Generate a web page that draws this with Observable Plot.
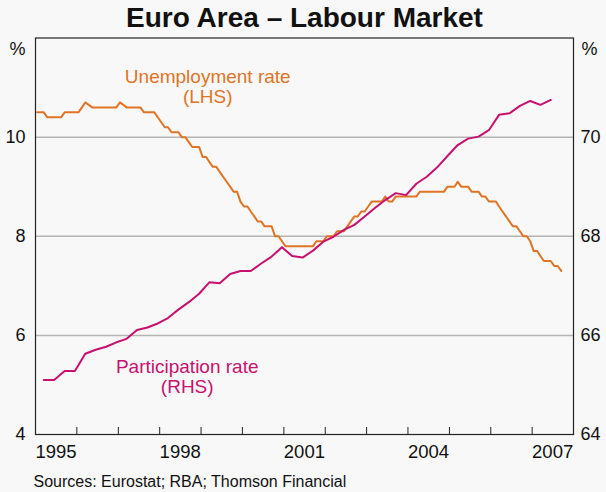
<!DOCTYPE html>
<html>
<head>
<meta charset="utf-8">
<script src="https://cdn.jsdelivr.net/npm/d3@7"></script>
<script src="https://cdn.jsdelivr.net/npm/@observablehq/plot@0.6"></script>
<style>
  html, body { margin: 0; padding: 0; background: #f8f8f8; }
  #chart { width: 606px; height: 492px; }
</style>
</head>
<body>
<div id="chart"></div>
<script>
// Unemployment rate, % (LHS), monthly from January 1995
const unemployment = [
  10.5,10.5,10.5,10.4,10.4,10.4,10.4,10.4,10.5,10.5,10.5,10.5,
  10.5,10.6,10.7,10.65,10.6,10.6,10.6,10.6,10.6,10.6,10.6,10.6,
  10.7,10.65,10.6,10.6,10.6,10.6,10.6,10.5,10.5,10.5,10.5,10.4,
  10.3,10.2,10.2,10.1,10.1,10.1,10.0,10.0,9.9,9.8,9.8,9.8,
  9.6,9.6,9.5,9.4,9.4,9.3,9.2,9.1,9.0,8.9,8.9,8.7,
  8.6,8.6,8.5,8.4,8.3,8.3,8.2,8.2,8.2,8.0,8.0,7.9,
  7.8,7.8,7.8,7.8,7.8,7.8,7.8,7.8,7.8,7.9,7.9,7.9,
  8.0,8.0,8.0,8.1,8.1,8.1,8.2,8.3,8.4,8.4,8.5,8.5,
  8.6,8.7,8.7,8.7,8.7,8.8,8.7,8.7,8.8,8.8,8.8,8.8,
  8.8,8.8,8.8,8.9,8.9,8.9,8.9,8.9,8.9,8.9,8.9,9.0,
  9.0,9.0,9.1,9.0,9.0,9.0,8.9,8.9,8.9,8.8,8.8,8.7,
  8.7,8.7,8.6,8.5,8.4,8.3,8.2,8.2,8.1,8.0,8.0,7.9,
  7.7,7.7,7.6,7.5,7.5,7.5,7.4,7.4,7.3
];
// Participation rate, % (RHS), quarterly from 1995 Q1
const participation = [
  65.10,65.10,65.28,65.28,65.63,65.71,65.77,65.86,65.93,66.11,
  66.16,66.24,66.35,66.52,66.67,66.84,67.07,67.05,67.24,67.30,
  67.30,67.45,67.59,67.78,67.60,67.57,67.71,67.89,67.99,68.13,
  68.23,68.40,68.57,68.73,68.87,68.83,69.06,69.20,69.39,69.62,
  69.84,69.97,70.01,70.14,70.45,70.48,70.63,70.73,70.65,70.75
];
const leftTicks = [4, 6, 8, 10];
const rightOffset = 60; // RHS value = LHS value + 60 (64..72 vs 4..12)
const yearLabels = [1995, 1998, 2001, 2004, 2007];
const tickYears = [1996,1997,1998,1999,2000,2001,2002,2003,2004,2005,2006,2007];
const seriesLabels = [
  {text: "Unemployment rate\n(LHS)", year: 1999, month: 2, v: 10.68, color: "#e07424"},
  {text: "Participation rate\n(RHS)", year: 1998, month: 8, v: 4.83, color: "#c8106e"}
];

const unempData = unemployment.map((v, i) => ({date: new Date(Date.UTC(1995, i, 15)), v}));
const partData = participation.map((v, i) => ({
  date: new Date(Date.UTC(1995 + Math.floor(i / 4), (i % 4) * 3 + 2, 15)), v: v - rightOffset
}));
const labelDates = yearLabels.map(y => new Date(Date.UTC(y, 6, 1)));
const tickDates = tickYears.map(y => new Date(Date.UTC(y, 0, 1)));

const W = 606, H = 492, mT = 37.5, mB = 58, mL = 35, mR = 33;
const font = "Arial, 'Liberation Sans', sans-serif";

const chart = Plot.plot({
  width: W, height: H,
  marginTop: mT, marginBottom: mB, marginLeft: mL, marginRight: mR,
  style: {background: "#f8f8f8", fontFamily: font, color: "#111", overflow: "visible"},
  x: {type: "utc", domain: [new Date(Date.UTC(1995, 0, 1)), new Date(Date.UTC(2008, 0, 1))]},
  y: {domain: [4, 12]},
  marks: [
    Plot.ruleY([6, 8, 10], {stroke: "#b4b4b4", strokeWidth: 1.5}),
    Plot.tickX(tickDates, {x: d => d, stroke: "#222", strokeWidth: 1, insetTop: (H - mT - mB) - 7}),
    Plot.axisY({anchor: "left", ticks: leftTicks, tickSize: 0, tickPadding: 10, fontSize: 18, label: null}),
    Plot.axisY({anchor: "right", ticks: leftTicks, tickSize: 0, tickPadding: 7, fontSize: 18, label: null,
      tickFormat: d => String(d + rightOffset)}),
    Plot.axisX({ticks: labelDates, tickSize: 0, tickPadding: 10, fontSize: 18.5, label: null,
      tickFormat: d => String(d.getUTCFullYear())}),
    Plot.text(["%"], {frameAnchor: "top-left", dx: -10, dy: 16.5, textAnchor: "end", lineAnchor: "bottom", fontSize: 18}),
    Plot.text(["%"], {frameAnchor: "top-right", dx: 8, dy: 16.5, textAnchor: "start", lineAnchor: "bottom", fontSize: 18}),
    Plot.line(unempData, {x: "date", y: "v", stroke: "#e07424", strokeWidth: 2}),
    Plot.line(partData, {x: "date", y: "v", stroke: "#c8106e", strokeWidth: 2}),
    Plot.text(seriesLabels, {
      x: d => new Date(Date.UTC(d.year, d.month, 1)), y: "v", text: "text",
      fill: d => d.color, fontSize: 19, lineAnchor: "bottom", lineHeight: 1.09, textAnchor: "middle"
    }),
    Plot.frame({stroke: "#222", strokeWidth: 1.2}),
    Plot.text(["Euro Area – Labour Market"], {frameAnchor: "top", dy: -11, lineAnchor: "bottom",
      fontSize: 28, fontWeight: "bold", fill: "#111"}),
    Plot.text(["Sources: Eurostat; RBA; Thomson Financial"], {frameAnchor: "bottom-left", dx: -2, dy: 52,
      lineAnchor: "bottom", textAnchor: "start", fontSize: 16, fill: "#111"})
  ]
});
document.getElementById("chart").appendChild(chart);
</script>
</body>
</html>
